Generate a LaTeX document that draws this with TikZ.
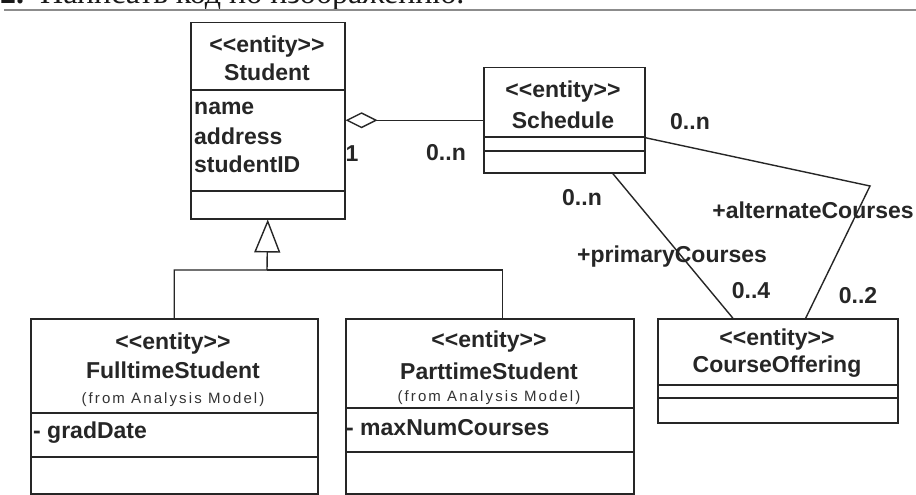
\documentclass[tikz,border=0pt]{standalone}
\usepackage{fontspec}
\setmainfont{Liberation Sans}
\newfontfamily\headfont{Liberation Serif}
\usetikzlibrary{arrows.meta}
\newcommand\stereo[1]{<\kern0pt<#1>\kern0pt>}
\tikzset{
  umlbox/.style={draw=black!85, line width=1.5pt, rectangle, inner sep=0pt, anchor=north west},
  divider/.style={draw=black!85, line width=1.5pt},
  conn/.style={draw=black!85, line width=1.4pt},
  txt/.style={inner sep=0pt, text=black!85, font=\fontsize{23}{25}\selectfont\bfseries},
  small/.style={inner sep=0pt, text=black!80, font=\fontsize{15}{17}\selectfont\addfontfeature{LetterSpace=14}},
  attr/.style={txt, anchor=west},
}
\begin{document}
\begin{tikzpicture}[x=1pt,y=-1pt]
\useasboundingbox (0,0) rectangle (916,495);
\clip (0,0) rectangle (916,495);
\fill[white] (0,0) rectangle (916,495);
% header (cut off)
\node[anchor=base west, inner sep=0pt, text=black!90, font=\headfont\fontsize{32}{34}\selectfont] (head) at (0,4) {\textbf{2.}\hspace{16pt}Написать код по изображению.};
\draw[black!45, line width=1.4pt] (4,10) -- (916,10);

% boxes
\node[umlbox, minimum width=154pt, minimum height=196pt] (student) at (190,22) {};
\node[umlbox, minimum width=161pt, minimum height=105pt] (schedule) at (483,67) {};
\node[umlbox, minimum width=240pt, minimum height=104pt] (course) at (657,318) {};
\node[umlbox, minimum width=287pt, minimum height=175pt] (full) at (30,318) {};
\node[umlbox, minimum width=288pt, minimum height=175pt] (part) at (345,318) {};

% dividers
\draw[divider] (190,90) -- (344,90);
\draw[divider] (190,191) -- (344,191);
\draw[divider] (483,137) -- (644,137);
\draw[divider] (483,151) -- (644,151);
\draw[divider] (657,385) -- (897,385);
\draw[divider] (657,398) -- (897,398);
\draw[divider] (30,413) -- (317,413);
\draw[divider] (30,457) -- (317,457);
\draw[divider] (345,408) -- (633,408);
\draw[divider] (345,452) -- (633,452);

% texts
\node[txt] (st1) at (267,47) {\stereo{entity}};
\node[txt] (st2) at (267,72) {Student};
\node[attr] (sa1) at (194,108) {name};
\node[attr] (sa2) at (194,136) {address};
\node[attr] (sa3) at (194,164) {studentID};

\node[txt] (sc1) at (563,92) {\stereo{entity}};
\node[txt] (sc2) at (563,120) {Schedule};

\node[txt] (co1) at (777,340) {\stereo{entity}};
\node[txt] (co2) at (777,367) {CourseOffering};

\node[txt] (fu1) at (173,344) {\stereo{entity}};
\node[txt] (fu2) at (173,370) {FulltimeStudent};
\node[small] (fu3) at (173,400) {(from Analysis Model)};
\node[attr] (fu4) at (33,433) {- gradDate};

\node[txt] (pa1) at (489,342) {\stereo{entity}};
\node[txt] (pa2) at (489,371) {ParttimeStudent};
\node[small] (pa3) at (489,398) {(from Analysis Model)};
\node[attr] (pa4) at (346,428) {- maxNumCourses};

% aggregation
\draw[conn, -{Diamond[open, length=32pt, width=16pt, line width=1.4pt]}] (schedule.west) -- (student.east |- schedule.west);

% generalization
\coordinate (gj) at (267,270);
\draw[conn, -{Triangle[open, length=33pt, width=26pt, line width=1.4pt]}] (full.north) |- (gj) -- (student.south);
\draw[conn] ([xshift=13pt]part.north) |- (gj);

% associations
\coordinate (bend) at (870,186);
\draw[conn] ([xshift=48.5pt]schedule.south) -- ([xshift=-45pt]course.north);
\draw[conn] ([yshift=-17.5pt]schedule.east) -- (bend) -- ([xshift=28pt]course.north);

% multiplicities / roles
\node[txt] (m1) at (352,154) {1};
\node[txt] (m2) at (446,153) {0..n};
\node[txt] (m3) at (690,122) {0..n};
\node[txt] (m4) at (582,198) {0..n};
\node[txt] (r1) at (813,210) {+alternateCourses};
\node[txt] (r2) at (672,257) {+primaryCourses};
\node[txt] (m5) at (751,291) {0..4};
\node[txt] (m6) at (858,296) {0..2};
\end{tikzpicture}
\end{document}
